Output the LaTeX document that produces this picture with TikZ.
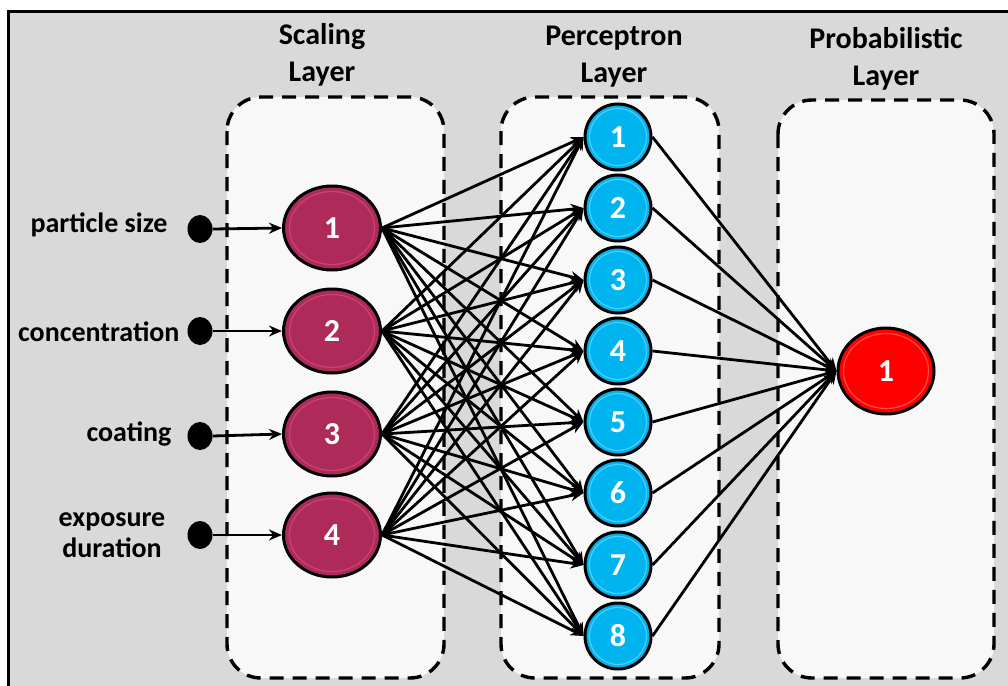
\documentclass[tikz,border=0pt]{standalone}
\usepackage{fontspec}
\setmainfont{Carlito}
\usetikzlibrary{shapes.geometric,arrows.meta}

\definecolor{panelgray}{HTML}{D9D9D9}
\definecolor{boxfill}{HTML}{F8F8F8}
\definecolor{scalecol}{HTML}{AE2A58}
\definecolor{scalerim}{HTML}{C9437A}
\definecolor{perccol}{HTML}{00B4F0}
\definecolor{percrim}{HTML}{4CCDFA}
\definecolor{probcol}{HTML}{FF0000}
\definecolor{probrim}{HTML}{FF4A4A}

\tikzset{
  layerbox/.style={draw=black, fill=boxfill, line width=3.4pt, rounded corners=34pt,
    dash pattern=on 14pt off 9pt},
  header/.style={align=center, font=\fontsize{30}{37}\selectfont\bfseries},
  inlabel/.style={font=\fontsize{28}{32}\selectfont\bfseries},
  numtext/.style={text=white, font=\fontsize{32}{34}\selectfont\bfseries},
  scalenode/.style={ellipse, draw=black, line width=3pt, fill=scalecol,
    minimum width=97pt, minimum height=84pt, inner sep=0pt, numtext},
  percnode/.style={circle, draw=black, line width=3pt, fill=perccol,
    minimum size=66pt, inner sep=0pt, numtext},
  probnode/.style={ellipse, draw=black, line width=3pt, fill=probcol,
    minimum width=96pt, minimum height=86pt, inner sep=0pt, numtext},
  dotnode/.style={ellipse, fill=black, minimum width=25pt, minimum height=28pt, inner sep=0pt},
  link/.style={line width=2.8pt, -{Stealth[length=13pt,width=11pt]}},
}

\begin{document}
\begin{tikzpicture}[x=1pt,y=-1pt]
\useasboundingbox (0,0) rectangle (1008,685);

% outer panel
\fill[white] (0,0) rectangle (1008,685);
\draw[fill=panelgray, line width=3pt] (8,12) rectangle (1020,700);

% layer boxes
\draw[layerbox] (227,97) rectangle (444,678);
\draw[layerbox] (501,97) rectangle (719,678);
\draw[layerbox] (778,100) rectangle (994,678);

% headers
\node[header] (hs) at (322,55) {Scaling\\Layer};
\node[header] (hp) at (614,57) {Perceptron\\Layer};
\node[header] (hr) at (886,59) {Probabilistic\\Layer};

% input labels and dots
\node[inlabel, anchor=east] (l1) at (171,225) {particle size};
\node[inlabel, anchor=east] (l2) at (183,332) {concentration};
\node[inlabel, anchor=east] (l3) at (175,434) {coating};
\node[inlabel, align=center] (l4) at (112,535) {exposure\\[-1pt]duration};

\node[dotnode] (d1) at (200,229) {};
\node[dotnode] (d2) at (200,331) {};
\node[dotnode] (d3) at (200,436) {};
\node[dotnode] (d4) at (200,535) {};

% scaling layer
\node[scalenode] (s1) at (332,228) {1};
\node[scalenode] (s2) at (332,331) {2};
\node[scalenode] (s3) at (332,434) {3};
\node[scalenode] (s4) at (332,535) {4};

% perceptron layer
\foreach \i/\y in {1/137,2/208,3/280,4/351,5/422,6/493,7/565,8/636}{
  \node[percnode] (p\i) at (618,\y) {\i};
}

% probabilistic layer
\node[probnode] (r1) at (886,371) {1};

% soft inner rims
\foreach \n in {s1,s2,s3,s4}{
  \draw[scalerim, line width=1.2pt] (\n.center) ellipse (42.5pt and 36.5pt);
}
\foreach \i in {1,...,8}{
  \draw[percrim, line width=1.2pt] (p\i.center) circle (28.5pt);
}
\draw[probrim, line width=1.2pt] (r1.center) ellipse (42.5pt and 37.5pt);

% connections
\foreach \k in {1,...,4}{
  \draw[link] (d\k.east) -- (s\k.west);
}
\foreach \k in {1,...,4}{
  \foreach \i in {1,...,8}{
    \draw[link] (s\k.east) -- (p\i.west);
  }
}
\foreach \i in {1,...,8}{
  \draw[link] (p\i.east) -- (r1.west);
}
\end{tikzpicture}
\end{document}
